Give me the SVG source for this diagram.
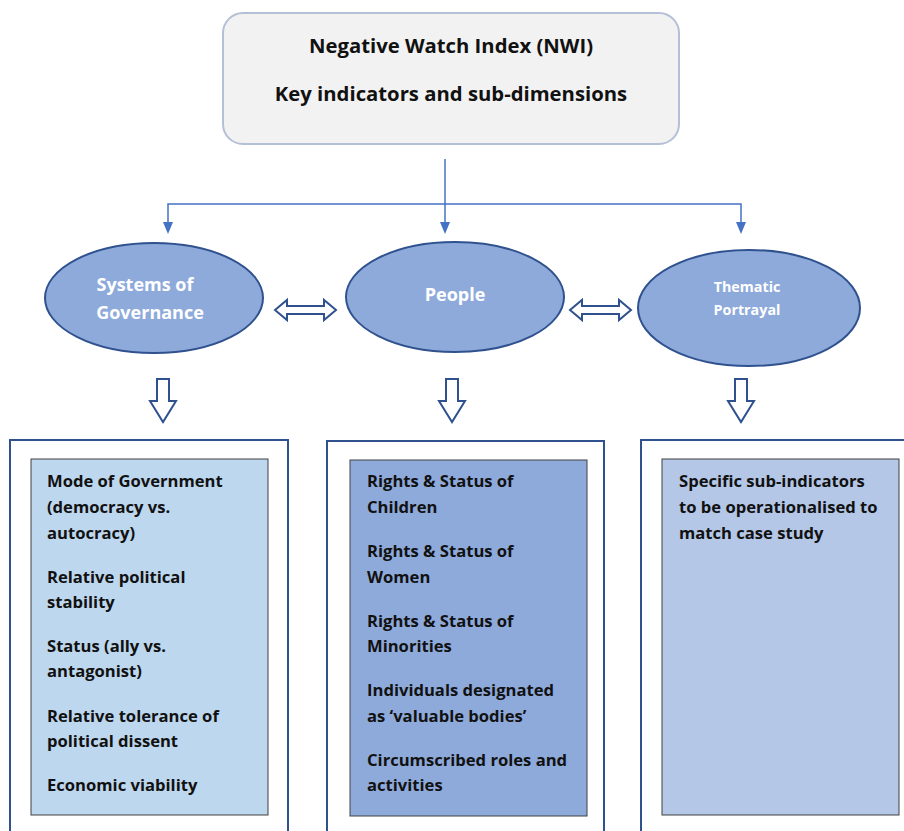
<svg xmlns="http://www.w3.org/2000/svg" width="904" height="831" viewBox="0 0 904 831">
<defs>
<style>
.t{font-family:"Open Sans","Liberation Sans",Arial,sans-serif;font-weight:bold;fill:#111}
.title{font-size:20.3px;text-anchor:middle}
.el{fill:#8eaadb;stroke:#2f528f;stroke-width:2}
.et{font-family:"Open Sans","Liberation Sans",Arial,sans-serif;font-weight:bold;fill:#fff;text-anchor:middle}
.blk{fill:#fff;stroke:#2f528f;stroke-width:2}
.outer{fill:#fff;stroke:#2f528f;stroke-width:2}
.inner{stroke:#404040;stroke-width:1}
.item{font-size:16.6px}
.conn{stroke:#4472c4;stroke-width:1.5;fill:none}
.ah{fill:#4472c4}
</style>
</defs>
<rect width="904" height="831" fill="#fff"/>
<g id="nwi">
<rect x="223" y="13" width="456" height="131" rx="20" fill="#f2f2f2" stroke="#b4c0d6" stroke-width="2"/>
<text class="t title" x="451" y="53">Negative Watch Index (NWI)</text>
<text class="t title" x="451" y="101">Key indicators and sub-dimensions</text>
</g>
<g id="connectors">
<path class="conn" d="M445,159 V222"/>
<path class="conn" d="M168,222 V204 H741 V222"/>
<path class="ah" d="M163,222 L173,222 L168,234 Z M440,222 L450,222 L445,234 Z M736,222 L746,222 L741,234 Z"/>
<path class="blk" d="M275,310 L287,300 L287,306 L324,306 L324,300 L336,310 L324,320 L324,314 L287,314 L287,320 Z"/>
<path class="blk" d="M570,310 L582,300 L582,306 L619,306 L619,300 L631,310 L619,320 L619,314 L582,314 L582,320 Z"/>
<path class="blk" d="M157,379 L169,379 L169,401 L176,401 L163,422 L150,401 L157,401 Z"/>
<path class="blk" d="M446,379 L458,379 L458,401 L465,401 L452,422 L439,401 L446,401 Z"/>
<path class="blk" d="M735,379 L747,379 L747,401 L754,401 L741,422 L728,401 L735,401 Z"/>
</g>
<g id="governance">
<ellipse class="el" cx="154" cy="298" rx="109" ry="55"/>
<text class="et" font-size="18" x="145" y="291">Systems of</text>
<text class="et" font-size="18" x="150" y="319">Governance</text>
</g>
<g id="people">
<ellipse class="el" cx="455" cy="297" rx="109" ry="55"/>
<text class="et" font-size="18" x="455" y="301">People</text>
</g>
<g id="thematic">
<ellipse class="el" cx="749" cy="308" rx="111" ry="58"/>
<text class="et" font-size="14.3" x="747" y="292">Thematic</text>
<text class="et" font-size="14.3" x="747" y="315">Portrayal</text>
</g>
<g id="governance-indicators">
<rect class="outer" x="10" y="440" width="278" height="400"/>
<rect class="inner" x="31" y="459" width="237" height="356" fill="#bdd7ee"/>
<text class="t item" x="47" y="487">Mode of Government</text>
<text class="t item" x="47" y="513">(democracy vs.</text>
<text class="t item" x="47" y="539">autocracy)</text>
<text class="t item" x="47" y="583">Relative political</text>
<text class="t item" x="47" y="608">stability</text>
<text class="t item" x="47" y="652">Status (ally vs.</text>
<text class="t item" x="47" y="677">antagonist)</text>
<text class="t item" x="47" y="722">Relative tolerance of</text>
<text class="t item" x="47" y="747">political dissent</text>
<text class="t item" x="47" y="791">Economic viability</text>
</g>
<g id="people-indicators">
<rect class="outer" x="327" y="441" width="277" height="400"/>
<rect class="inner" x="350" y="460" width="237" height="356" fill="#8eaadb"/>
<text class="t item" x="367" y="487">Rights &amp; Status of</text>
<text class="t item" x="367" y="513">Children</text>
<text class="t item" x="367" y="557">Rights &amp; Status of</text>
<text class="t item" x="367" y="583">Women</text>
<text class="t item" x="367" y="627">Rights &amp; Status of</text>
<text class="t item" x="367" y="652">Minorities</text>
<text class="t item" x="367" y="696">Individuals designated</text>
<text class="t item" x="367" y="722">as ‘valuable bodies’</text>
<text class="t item" x="367" y="766">Circumscribed roles and</text>
<text class="t item" x="367" y="791">activities</text>
</g>
<g id="thematic-indicators">
<rect class="outer" x="641" y="440" width="280" height="400"/>
<rect class="inner" x="662" y="459" width="237" height="356" fill="#b4c7e7"/>
<text class="t item" x="679" y="487">Specific sub-indicators</text>
<text class="t item" x="679" y="513">to be operationalised to</text>
<text class="t item" x="679" y="539">match case study</text>
</g>
</svg>
